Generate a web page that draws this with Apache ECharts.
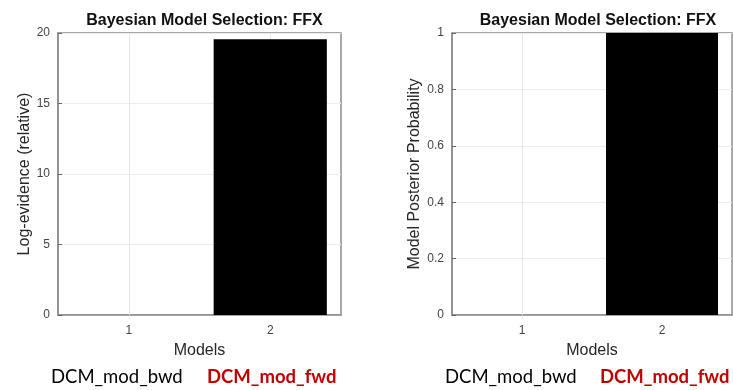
<!DOCTYPE html>
<html><head><meta charset="utf-8">
<script src="https://cdn.jsdelivr.net/npm/echarts@6/dist/echarts.min.js"></script>
<style>html,body{margin:0;padding:0;background:#fff}#c{width:733px;height:390px}</style>
</head><body><div id="c"></div>
<script>
const models = ['1', '2'];
const logEvidence = [0, 19.55];
const posteriorProb = [0, 1.0];
const modelNames = ['DCM_mod_bwd', 'DCM_mod_fwd'];
const titleText = 'Bayesian Model Selection: FFX';

const axisGray = '#8c8c8c';
const textCol = '#262626';
const tickCol = '#444';
const F = 'Liberation Sans, Arial, sans-serif';

const chart = echarts.init(document.getElementById('c'));
function xAx(gi){
  return {
    gridIndex: gi, type: 'category', data: models,
    axisLine: {lineStyle: {color: axisGray, width: 1.5}},
    axisTick: {alignWithLabel: true, inside: true, length: 4, lineStyle: {color: '#666'}},
    axisLabel: {color: tickCol, fontSize: 12, fontFamily: F, margin: 10},
    splitLine: {show: false},
    name: 'Models', nameLocation: 'middle', nameGap: 28,
    nameTextStyle: {color: textCol, fontSize: 16, fontFamily: F}
  };
}
function yAx(gi, max, interval, name, gap){
  return {
    gridIndex: gi, type: 'value', min: 0, max: max, interval: interval,
    axisLine: {show: true, lineStyle: {color: axisGray, width: 1.5}},
    axisTick: {show: true, inside: true, length: 4, lineStyle: {color: '#666'}},
    axisLabel: {color: tickCol, fontSize: 12, fontFamily: F, margin: 8},
    splitLine: {show: true, lineStyle: {color: '#ececec', width: 1}},
    name: name, nameLocation: 'middle', nameGap: gap,
    nameTextStyle: {color: textCol, fontSize: 16, fontFamily: F}
  };
}
function gridSeries(gi){
  return {type: 'line', xAxisIndex: gi, yAxisIndex: gi, data: [], z: 1, silent: true,
    markLine: {silent: true, symbol: 'none', label: {show: false}, animation: false,
      lineStyle: {color: '#e6e6e6', type: 'solid', width: 1},
      data: models.map(m => ({xAxis: m}))}};
}
chart.setOption({
  animation: false,
  title: [
    {text: titleText, left: 199.5, top: 8, textAlign: 'center',
     textStyle: {fontSize: 16, fontWeight: 'bold', color: '#111', fontFamily: F}},
    {text: titleText, left: 593, top: 8, textAlign: 'center',
     textStyle: {fontSize: 16, fontWeight: 'bold', color: '#111', fontFamily: F}}
  ],
  grid: [
    {left: 58, top: 33, width: 283, height: 282, show: true, borderColor: axisGray, borderWidth: 1.5, backgroundColor: '#fff'},
    {left: 452, top: 33, width: 280, height: 282, show: true, borderColor: axisGray, borderWidth: 1.5, backgroundColor: '#fff'}
  ],
  xAxis: [xAx(0), xAx(1)],
  yAxis: [yAx(0, 20, 5, 'Log-evidence (relative)', 25), yAx(1, 1, 0.2, 'Model Posterior Probability', 29)],
  series: [
    gridSeries(0), gridSeries(1),
    {type: 'bar', xAxisIndex: 0, yAxisIndex: 0, data: logEvidence, barWidth: '80%',
     itemStyle: {color: '#000'}, z: 5},
    {type: 'bar', xAxisIndex: 1, yAxisIndex: 1, data: posteriorProb, barWidth: '80%',
     itemStyle: {color: '#000'}, z: 5}
  ],
  graphic: [
    {type: 'text', left: 51, top: 368, style: {text: modelNames[0], fontSize: 18.5, fontFamily: 'Lato, sans-serif', fill: '#000'}},
    {type: 'text', left: 207, top: 368, style: {text: modelNames[1], fontSize: 18.5, fontWeight: 'bold', fontFamily: 'Lato, sans-serif', fill: '#c00000'}},
    {type: 'text', left: 445, top: 368, style: {text: modelNames[0], fontSize: 18.5, fontFamily: 'Lato, sans-serif', fill: '#000'}},
    {type: 'text', left: 600, top: 368, style: {text: modelNames[1], fontSize: 18.5, fontWeight: 'bold', fontFamily: 'Lato, sans-serif', fill: '#c00000'}}
  ]
});
</script></body></html>
